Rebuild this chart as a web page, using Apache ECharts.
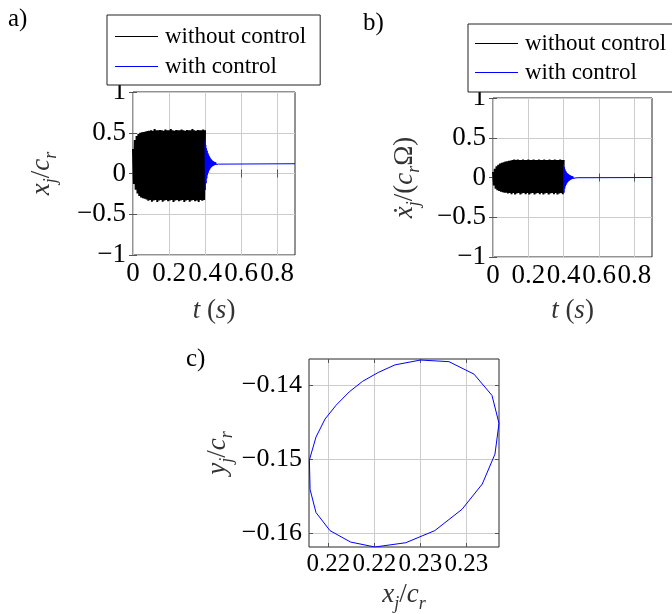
<!DOCTYPE html>
<html><head><meta charset="utf-8">
<script src="https://cdn.jsdelivr.net/npm/echarts@6/dist/echarts.min.js"></script>
<style>html,body{margin:0;padding:0;background:#fff}#c{width:672px;height:614px}</style>
</head><body><div id="c"></div>
<script>
// ---------- data ----------
const timeBlack = [0,0.005,0.01,0.015,0.02,0.025,0.03,0.035,0.04,0.045,
0.05,0.055,0.06,0.065,0.07,0.075,0.08,0.085,0.09,0.095,
0.1,0.105,0.11,0.115,0.12,0.125,0.13,0.135,0.14,0.145,
0.15,0.155,0.16,0.165,0.17,0.175,0.18,0.185,0.19,0.195,
0.2,0.205,0.21,0.215,0.22,0.225,0.23,0.235,0.24,0.245,
0.25,0.255,0.26,0.265,0.27,0.275,0.28,0.285,0.29,0.295,
0.3,0.305,0.31,0.315,0.32,0.325,0.33,0.335,0.34,0.345,
0.35,0.355,0.36,0.365,0.37,0.375,0.38,0.385,0.39,0.395,0.4];
const xjWithout = [0.30,-0.13,0.41,-0.20,0.46,-0.245,0.485,-0.275,0.50,-0.295,
0.505,-0.305,0.51,-0.31,0.515,-0.32,0.52,-0.335,0.525,-0.325,
0.53,-0.345,0.525,-0.33,0.545,-0.325,0.53,-0.35,0.53,-0.33,
0.535,-0.325,0.53,-0.345,0.525,-0.33,0.54,-0.325,0.53,-0.34,
0.53,-0.33,0.545,-0.325,0.53,-0.35,0.525,-0.33,0.535,-0.325,
0.53,-0.34,0.53,-0.33,0.54,-0.325,0.53,-0.35,0.525,-0.33,
0.535,-0.325,0.53,-0.345,0.53,-0.33,0.545,-0.325,0.53,-0.34,
0.525,-0.33,0.535,-0.35,0.53,-0.325,0.53,-0.335,0.54,-0.325,0.53];
const xdotWithout = [0.07,-0.10,0.11,-0.14,0.14,-0.16,0.16,-0.17,0.175,-0.18,
0.185,-0.185,0.19,-0.19,0.20,-0.19,0.205,-0.20,0.21,-0.195,
0.215,-0.21,0.22,-0.195,0.225,-0.215,0.22,-0.20,0.225,-0.195,
0.22,-0.215,0.22,-0.20,0.225,-0.195,0.22,-0.21,0.22,-0.195,
0.225,-0.215,0.22,-0.20,0.22,-0.195,0.225,-0.215,0.22,-0.20,
0.22,-0.195,0.225,-0.21,0.22,-0.195,0.22,-0.215,0.225,-0.20,
0.22,-0.195,0.22,-0.215,0.225,-0.20,0.22,-0.195,0.22,-0.21,
0.225,-0.195,0.22,-0.215,0.22,-0.20,0.225,-0.195,0.22,-0.21,0.22];
const timeBlue = [0.4,0.402,0.404,0.406,0.408,0.41,0.412,0.414,0.416,0.418,
0.42,0.422,0.424,0.426,0.428,0.43,0.432,0.434,0.436,0.438,
0.44,0.442,0.444,0.446,0.448,0.45,0.452,0.454,0.456,0.458,
0.46,0.462,0.464,0.466,0.468,0.47,0.472,0.474,0.476,0.478,0.48,0.9];
const xjWith = [0.40,-0.20,0.35,-0.12,0.31,-0.06,0.28,-0.02,0.25,0.01,
0.23,0.035,0.21,0.05,0.195,0.065,0.18,0.075,0.17,0.085,
0.16,0.09,0.153,0.095,0.147,0.10,0.142,0.104,0.138,0.107,
0.135,0.109,0.132,0.111,0.130,0.113,0.128,0.115,0.126,0.117,0.124,0.12];
const xdotWith = [0.17,-0.19,0.13,-0.14,0.10,-0.11,0.08,-0.09,0.065,-0.072,
0.055,-0.06,0.046,-0.05,0.039,-0.042,0.033,-0.035,0.028,-0.029,
0.023,-0.024,0.019,-0.02,0.016,-0.016,0.013,-0.013,0.011,-0.011,
0.009,-0.009,0.007,-0.007,0.006,-0.006,0.004,-0.004,0.003,-0.003,0.002,0];
const orbitX = [0.22501,0.22656,0.22792,0.22890,0.22928,0.22906,0.22837,0.22727,0.22579,0.22421,
0.22253,0.22121,0.22009,0.21933,0.21901,0.21897,0.21933,0.21982,0.22042,0.22114,
0.22186,0.22271,0.22362,0.22501];
const orbitY = [-0.13654,-0.13676,-0.13845,-0.14134,-0.14512,-0.14929,-0.15334,-0.15676,-0.15965,-0.16129,
-0.16187,-0.16120,-0.15965,-0.15720,-0.15409,-0.15009,-0.14698,-0.14454,-0.14267,-0.14085,
-0.13943,-0.13823,-0.13720,-0.13654];
const tTicks = [0,0.2,0.4,0.6,0.8];
const tTickLabels = ['0','0.2','0.4','0.6','0.8'];
const ampTicks = [-1,-0.5,0,0.5,1];
const ampTickLabels = ['\u22121','\u22120.5','0','0.5','1'];
const orbitXTicks = [0.22,0.2225,0.225,0.2275];
const orbitXTickLabels = ['0.22','0.22','0.23','0.23'];
const orbitYTicks = [-0.16,-0.15,-0.14];
const orbitYTickLabels = ['\u22120.16','\u22120.15','\u22120.14'];
const seriesNames = ['without control','with control'];
const seriesColors = ['#000000','#0000ff'];

// ---------- helpers ----------
const FONT = 'Liberation Serif';
const zip = (a, b) => a.map((v, i) => [v, b[i]]);
function lookup(ticks, labels) {
  return v => {
    let bi = 0, bd = Infinity;
    ticks.forEach((t, i) => { const d = Math.abs(t - v); if (d < bd) { bd = d; bi = i; } });
    return labels[bi];
  };
}
const nameRich = {
  i: {fontFamily: FONT, fontStyle: 'italic', fontSize: 27, color: '#333', lineHeight: 36, verticalAlign: 'middle'},
  s: {fontFamily: FONT, fontStyle: 'italic', fontSize: 18, color: '#333', lineHeight: 18, verticalAlign: 'bottom'},
  n: {fontFamily: FONT, fontSize: 27, color: '#333', lineHeight: 36, verticalAlign: 'middle'}
};
function axis(dim, grid, min, max, ticks, labels, pos, main, name, nameGap, fs) {
  const a = {
    type: 'value', gridIndex: grid, min: min, max: max, position: pos,
    axisLine: {show: false},
    axisTick: {show: true, inside: true, length: 4, customValues: ticks, lineStyle: {color: '#555', width: 1}},
    axisLabel: {show: main, customValues: ticks, formatter: lookup(ticks, labels), interval: 0, hideOverlap: false,
      fontFamily: FONT, fontSize: fs || 27, color: '#000', margin: dim === 'x' ? 5 : 7},
    splitLine: {show: main, lineStyle: {color: '#cccccc', width: 1}},
    silent: true
  };
  if (main && name) {
    a.name = name;
    a.nameLocation = 'middle';
    a.nameGap = nameGap;
    a.nameTextStyle = {fontFamily: FONT, fontSize: 27, color: '#333', rich: nameRich};
    if (dim === 'y') a.nameRotate = 90;
  }
  return a;
}
const tName = '{i|t} ({i|s})';
const xjName = '{i|x}{s|j}{n|/}{i|c}{s|r}';
const xdotName = '{i|\u1E8B}{s|j}{n|/(}{i|c}{s|r}{n|\u03A9)}';
const yjName = '{i|y}{s|j}{n|/}{i|c}{s|r}';

const xMinC = 0.21895, xMaxC = 0.22928, yMinC = -0.16187, yMaxC = -0.13640;

const xAxes = [
  axis('x', 0, 0, 0.9, tTicks, tTickLabels, 'bottom', true, tName, 38),
  axis('x', 0, 0, 0.9, tTicks, tTickLabels, 'top', false),
  axis('x', 1, 0, 0.9, tTicks, tTickLabels, 'bottom', true, tName, 36),
  axis('x', 1, 0, 0.9, tTicks, tTickLabels, 'top', false),
  axis('x', 2, xMinC, xMaxC, orbitXTicks, orbitXTickLabels, 'bottom', true, xjName, 30, 25),
  axis('x', 2, xMinC, xMaxC, orbitXTicks, orbitXTickLabels, 'top', false)
];
const yAxes = [
  axis('y', 0, -1, 1, ampTicks, ampTickLabels, 'left', true, xjName, 73),
  axis('y', 0, -1, 1, ampTicks, ampTickLabels, 'right', false),
  axis('y', 1, -1, 1, ampTicks, ampTickLabels, 'left', true, xdotName, 70),
  axis('y', 1, -1, 1, ampTicks, ampTickLabels, 'right', false),
  axis('y', 2, yMinC, yMaxC, orbitYTicks, orbitYTickLabels, 'left', true, yjName, 73, 26),
  axis('y', 2, yMinC, yMaxC, orbitYTicks, orbitYTickLabels, 'right', false)
];
function line(name, xi, data, color, width) {
  return {type: 'line', name: name, xAxisIndex: xi, yAxisIndex: xi, data: data,
    symbol: 'none', showSymbol: false, color: color, sampling: null,
    itemStyle: {color: color},
    lineStyle: {color: color, width: width}, emphasis: {disabled: true}, silent: true, z: 3};
}
// legend: line sample drawn as a rich-text token coloured per series
const legendRich = {
  k0: {width: 43, height: 1, backgroundColor: seriesColors[0], verticalAlign: 'middle'},
  k1: {width: 43, height: 1, backgroundColor: seriesColors[1], verticalAlign: 'middle'},
  g: {width: 7},
  t: {fontFamily: FONT, fontSize: 23, color: '#000', lineHeight: 23, verticalAlign: 'middle'}
};
function legendBox(left, top, padding, gap) {
  return {
    left: left, top: top, padding: padding, itemGap: gap, orient: 'vertical',
    itemWidth: 0, itemHeight: 0, icon: 'rect', selectedMode: false,
    backgroundColor: '#fff', borderColor: '#222', borderWidth: 1, borderRadius: 0,
    formatter: n => '{k' + seriesNames.indexOf(n) + '|}{g|}{t|' + n + '}',
    textStyle: {fontFamily: FONT, fontSize: 23, color: '#000', lineHeight: 23, rich: legendRich},
    data: seriesNames, z: 20
  };
}
const gridBase = {show: true, borderColor: '#262626', borderWidth: 1, backgroundColor: 'transparent', containLabel: false};
const option = {
  backgroundColor: '#fff',
  animation: false,
  grid: [
    Object.assign({left: 133, top: 92, width: 162, height: 163}, gridBase),
    Object.assign({left: 493, top: 98, width: 159, height: 159}, gridBase),
    Object.assign({left: 309, top: 359, width: 190, height: 191}, gridBase)
  ],
  legend: [
    legendBox(107, 15, [10, 14, 7, 3], 7),
    legendBox(468, 24, [8, 8, 8, 2], 6)
  ],
  xAxis: xAxes,
  yAxis: yAxes,
  series: [
    line(seriesNames[0], 0, zip(timeBlack, xjWithout), seriesColors[0], 2),
    line(seriesNames[1], 0, zip(timeBlue, xjWith), seriesColors[1], 1),
    line(seriesNames[0], 2, zip(timeBlack, xdotWithout), seriesColors[0], 2),
    line(seriesNames[1], 2, zip(timeBlue, xdotWith), seriesColors[1], 1),
    line('orbit', 4, zip(orbitX, orbitY), seriesColors[1], 1)
  ],
  graphic: [
    {type: 'text', left: 8, top: 7, style: {text: 'a)', font: '25px "Liberation Serif"', fill: '#000'}},
    {type: 'text', left: 363, top: 11, style: {text: 'b)', font: '25px "Liberation Serif"', fill: '#000'}},
    {type: 'text', left: 186, top: 347, style: {text: 'c)', font: '25px "Liberation Serif"', fill: '#000'}}
  ]
};
const chart = echarts.init(document.getElementById('c'), null, {renderer: 'canvas'});
chart.setOption(option);
</script>
</body></html>
